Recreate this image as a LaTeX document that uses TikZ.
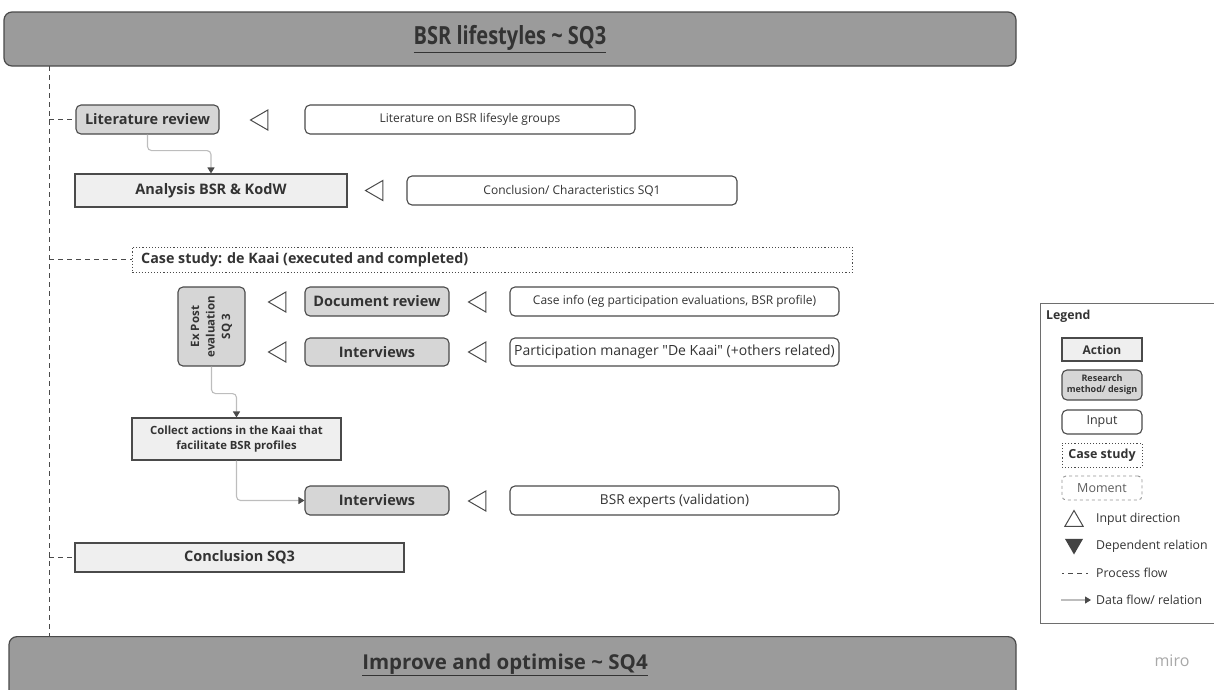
\documentclass[tikz,border=0pt]{standalone}
\usepackage{fontspec}
\setmainfont{Open Sans}
\newfontfamily\condfont[FakeStretch=0.8]{Open Sans}
\newfontfamily\rawfont{Open Sans}
\usetikzlibrary{arrows.meta,shapes.geometric,calc}

\definecolor{barfill}{HTML}{9B9B9B}
\definecolor{edge}{HTML}{4A4A4A}
\definecolor{methodfill}{HTML}{D6D6D6}
\definecolor{actionfill}{HTML}{EFEFEF}
\definecolor{flowline}{HTML}{BDBDBD}
\definecolor{txt}{HTML}{333333}
\definecolor{mirogray}{HTML}{A8A8A8}

\tikzset{
  box/.style={draw=edge, line width=1.1pt, inner sep=0pt, align=center, text=txt},
  bar/.style={box, fill=barfill, rounded corners=8pt, line width=1.2pt},
  method/.style={box, fill=methodfill, rounded corners=5pt, font=\bfseries\fontsize{14.5}{17}\selectfont},
  action/.style={box, fill=actionfill, font=\bfseries\fontsize{14.5}{17}\selectfont},
  input/.style={box, fill=white, rounded corners=5pt, font=\fontsize{12}{14}\selectfont},
  casebox/.style={box, dotted, line width=0.9pt},
  intri/.style={draw=edge, line width=1pt, regular polygon, regular polygon sides=3,
    shape border rotate=90, minimum size=23pt, inner sep=0pt},
  process/.style={draw=edge, line width=1pt, dash pattern=on 5pt off 4pt},
  flow/.style={draw=flowline, line width=1.1pt, rounded corners=4pt,
    -{Triangle[length=6pt,width=7pt,color=edge]}},
  legtext/.style={anchor=west, text=txt, font=\fontsize{12.3}{15}\selectfont, inner sep=0pt},
}

\begin{document}
\begin{tikzpicture}[x=1pt, y=-1pt]
\useasboundingbox (0,0) rectangle (1214,689);

% phase bars
\node[bar, minimum width=1012pt, minimum height=54pt] (top) at (510,39)
  {\condfont\bfseries\fontsize{25}{29}\selectfont\underline{BSR lifestyles \textasciitilde{} SQ3}};
\node[bar, minimum width=1007pt, minimum height=64pt, anchor=north] (bottom) at (512.5,636) {};
\node[text=txt, font=\bfseries\fontsize{20.5}{24}\selectfont] (bottomlbl) at (505,665)
  {\underline{Improve and optimise \textasciitilde{} SQ4}};

% process spine
\coordinate (spineT) at (49,66);
\coordinate (spineB) at (49,636);
\draw[process] (spineT) -- (spineB);

% literature review
\node[method, minimum width=143pt, minimum height=29pt] (litrev) at (147.5,119.5) {Literature review};
\node[intri] (tri1) at (262,120) {};
\node[input, minimum width=330pt, minimum height=29pt] (litin) at (470,119.5) {Literature on BSR lifesyle groups};

% analysis
\node[action, minimum width=272pt, minimum height=33pt] (analysis) at (211,190.5) {Analysis BSR \& KodW};
\node[intri] (tri2) at (377,190.5) {};
\node[input, minimum width=330pt, minimum height=29pt] (sq1in) at (572,190.5) {Conclusion/ Characteristics SQ1};

% case study
\node[casebox, minimum width=720pt, minimum height=25pt, anchor=west] (case) at (132,259.5) {};
\node[anchor=west, text=txt, inner sep=0pt, font=\bfseries\fontsize{14.3}{16}\selectfont] (caselbl)
  at ($(case.west)+(9,0)$) {Case study: de Kaai (executed and completed)};

% ex post evaluation
\node[method, minimum width=67pt, minimum height=79pt] (expost) at (211.5,326.5) {};
\node[rotate=90, text=txt, align=center, inner sep=0pt, font=\bfseries\fontsize{11.5}{15.5}\selectfont]
  (expostlbl) at (expost.center) {Ex Post\\evaluation\\SQ 3};

\node[intri] (tri3) at (280,302) {};
\node[intri] (tri4) at (280,352) {};
\node[method, minimum width=144pt, minimum height=29pt] (docrev) at (377,301.5) {Document review};
\node[method, minimum width=144pt, minimum height=28pt] (int1) at (377,352) {Interviews};
\node[intri] (tri5) at (480,302) {};
\node[intri] (tri6) at (480,352) {};
\node[input, minimum width=329pt, minimum height=29pt] (caseinfo) at (674.5,301.5)
  {Case info (eg participation evaluations, BSR profile)};
\node[input, minimum width=329pt, minimum height=28pt, font=\rawfont\fontsize{14}{16}\selectfont] (partman) at (674.5,352)
  {Participation manager "De Kaai" (+others related)};

% collected actions
\node[action, minimum width=209pt, minimum height=42pt, font=\bfseries\fontsize{11.3}{15}\selectfont] (collect) at (236.5,439)
  {Collect actions in the Kaai that\\facilitate BSR profiles};

\node[method, minimum width=144pt, minimum height=29pt] (int3) at (377,500.5) {Interviews};
\node[intri] (tri7) at (480,501) {};
\node[input, minimum width=329pt, minimum height=29pt, font=\fontsize{13.6}{16}\selectfont] (experts) at (674.5,500.5)
  {BSR experts (validation)};

% conclusion
\node[action, minimum width=329pt, minimum height=29pt] (concl) at (239.5,557.5) {Conclusion SQ3};

% process flow branches
\draw[process] (spineT |- litrev.west) -- (litrev.west);
\draw[process] (spineT |- case.west) -- (case.west);
\draw[process] (spineT |- concl.west) -- (concl.west);

% data flow
\draw[flow] (litrev.south) -- ++(0,16) -| (analysis.north);
\draw[flow] (expost.south) -- ++(0,27) -| (collect.north);
\draw[flow] (collect.south) |- (int3.west);

% legend
\node[draw=edge!80, line width=1pt, minimum width=180pt, minimum height=320pt, anchor=north west, inner sep=0pt] (legend) at (1040,303) {};
\node[anchor=west, text=txt, inner sep=0pt, font=\bfseries\fontsize{12.3}{14}\selectfont] (legendlbl) at (1046,316) {Legend};
\node[action, minimum width=80pt, minimum height=23pt, font=\bfseries\fontsize{12}{14}\selectfont] (lgaction) at (1102,349.5) {Action};
\node[method, minimum width=80pt, minimum height=30pt, font=\bfseries\fontsize{9}{11}\selectfont] (lgmethod) at (1102,385) {Research\\method/ design};
\node[input, minimum width=80pt, minimum height=24pt, font=\fontsize{12.5}{14}\selectfont] (lginput) at (1102,422) {Input};
\node[casebox, minimum width=80pt, minimum height=24pt, font=\bfseries\fontsize{12.5}{14}\selectfont] (lgcase) at (1102,455) {Case study};
\node[box, draw=edge!60, dashed, rounded corners=4pt, line width=0.9pt, minimum width=80pt, minimum height=24pt,
  text=txt!80, font=\fontsize{12.5}{14}\selectfont] (lgmoment) at (1102,488) {Moment};

\node[draw=edge, line width=1pt, regular polygon, regular polygon sides=3, minimum size=21pt, inner sep=0pt] (lgup) at (1074,521) {};
\node[legtext] (lguplbl) at (1096,519) {Input direction};
\node[fill=edge!90!black, regular polygon, regular polygon sides=3, shape border rotate=180, minimum size=21pt, inner sep=0pt] (lgdown) at (1074,544) {};
\node[legtext] (lgdownlbl) at (1096,546) {Dependent relation};
\coordinate (lgp1) at (1062,573);
\coordinate (lgp2) at (1089,573);
\draw[draw=edge, line width=1pt, dash pattern=on 2pt off 4pt on 5pt off 4pt on 5pt off 4pt] (lgp1) -- (lgp2);
\node[legtext] (lgplbl) at (1096,573) {Process flow};
\coordinate (lgf1) at (1061,600);
\coordinate (lgf2) at (1091,600);
\draw[draw=flowline, line width=1.1pt, -{Triangle[length=6pt,width=7pt,color=edge]}] (lgf1) -- (lgf2);
\node[legtext] (lgflbl) at (1096,600) {Data flow/ relation};

% watermark
\node[text=mirogray, font=\fontsize{16}{18}\selectfont] (miro) at (1172,661) {miro};
\end{tikzpicture}
\end{document}
